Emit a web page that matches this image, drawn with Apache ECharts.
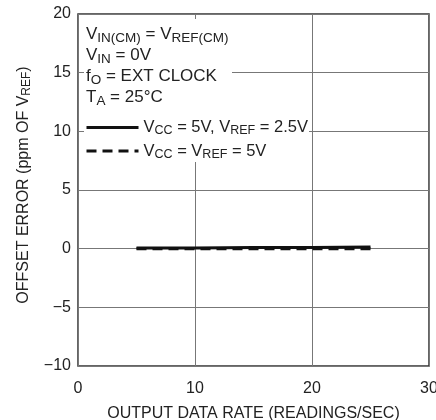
<!DOCTYPE html>
<html>
<head>
<meta charset="utf-8">
<script src="https://cdn.jsdelivr.net/npm/echarts@6/dist/echarts.min.js"></script>
<style>
html,body{margin:0;padding:0;background:#fff;}
#main{width:436px;height:420px;}
</style>
</head>
<body>
<div id="main"></div>
<script>
var FONT = '"Liberation Sans", Arial, sans-serif';

// data
var rates = [5, 10, 15, 20, 25];
var offsetVref25 = [0.05, 0.05, 0.1, 0.1, 0.15];
var offsetVref5 = [0, 0, 0, 0, 0];

function pairs(xs, ys){
	var out = [];
	for (var i = 0; i < xs.length; i++) out.push([xs[i], ys[i]]);
	return out;
}

var sub = {fontSize: 12, fontFamily: FONT, color: '#222', padding: [7, 0, 0, 0]};

var option = {
	backgroundColor: '#fff',
	animation: false,
	grid: {
		left: 78, right: 7, top: 14, bottom: 54,
		outerBoundsMode: 'none',
		show: true, borderColor: '#333', borderWidth: 1.5
	},
	xAxis: {
		type: 'value', min: 0, max: 30, interval: 10,
		name: 'OUTPUT DATA RATE (READINGS/SEC)',
		nameLocation: 'middle', nameGap: 40,
		nameTextStyle: {fontFamily: FONT, fontSize: 16, color: '#222'},
		axisLine: {show: false},
		axisTick: {show: false},
		axisLabel: {fontFamily: FONT, fontSize: 16, color: '#222', margin: 15},
		splitLine: {lineStyle: {color: '#777', width: 1}}
	},
	yAxis: {
		type: 'value', min: -10, max: 20, interval: 5,
		name: 'OFFSET ERROR (ppm OF V{s|REF})',
		nameLocation: 'middle', nameGap: 45, nameRotate: 90,
		nameTextStyle: {
			fontFamily: FONT, fontSize: 16, color: '#222',
			padding: [0, 0, 0, 10],
			rich: {s: sub}
		},
		axisLine: {show: false},
		axisTick: {show: false},
		axisLabel: {
			fontFamily: FONT, fontSize: 16, color: '#222', margin: 7,
			formatter: function (v){ return String(v).replace('-', '\u2212'); }
		},
		splitLine: {lineStyle: {color: '#777', width: 1}}
	},
	legend: {
		orient: 'vertical', left: 80, top: 114, itemGap: 5,
		itemWidth: 52, itemHeight: 14,
		itemStyle: {opacity: 0},
		lineStyle: {width: 3},
		textStyle: {
			fontFamily: FONT, fontSize: 16.5, color: '#222',
			rich: {s: {fontSize: 12.5, fontFamily: FONT, color: '#222', padding: [7, 0, 0, 0]}}
		},
		formatter: function (name){
			if (name === 'a') return 'V{s|CC} = 5V, V{s|REF} = 2.5V';
			return 'V{s|CC} = V{s|REF} = 5V';
		},
		data: ['a', 'b']
	},
	graphic: [
		{type: 'rect', z: 1, shape: {x: 84, y: 19, width: 148, height: 141}, style: {fill: '#fff'}},
		{type: 'rect', z: 1, shape: {x: 84, y: 112, width: 225, height: 50}, style: {fill: '#fff'}},
		{
			type: 'text', z: 5, left: 86, top: 24,
			style: {
				text: 'V{s|IN(CM)} = V{s|REF(CM)}\nV{s|IN} = 0V\nf{s|O} = EXT CLOCK\nT{s|A} = 25°C',
				fontFamily: FONT, fontSize: 17, fill: '#222', lineHeight: 21,
				rich: {s: {fontSize: 13.5, fontFamily: FONT, fill: '#222', padding: [7, 0, 0, 0]}}
			}
		}
	],
	series: [
		{
			name: 'a', type: 'line', symbol: 'none', z: 3,
			lineStyle: {color: '#111', width: 3},
			itemStyle: {color: 'rgba(0,0,0,0)'},
			data: pairs(rates, offsetVref25)
		},
		{
			name: 'b', type: 'line', symbol: 'none', z: 3,
			lineStyle: {color: '#111', width: 3, type: [10, 6]},
			itemStyle: {color: 'rgba(0,0,0,0)'},
			data: pairs(rates, offsetVref5)
		}
	]
};

var myChart = echarts.init(document.getElementById('main'));
myChart.setOption(option);
</script>
</body>
</html>
